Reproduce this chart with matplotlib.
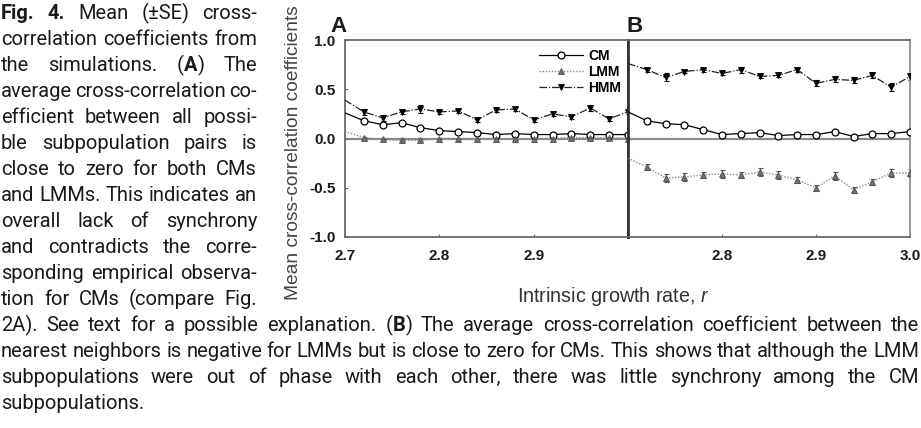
import matplotlib
matplotlib.use('Agg')
import matplotlib.pyplot as plt

# intrinsic growth rate, one simulation every 0.02
r = [2.70, 2.72, 2.74, 2.76, 2.78, 2.80, 2.82, 2.84, 2.86, 2.88, 2.90, 2.92, 2.94, 2.96, 2.98, 3.00]

# panel A: all possible subpopulation pairs
cm_a = [0.26, 0.18, 0.14, 0.16, 0.11, 0.08, 0.07, 0.06, 0.04, 0.05, 0.04, 0.04, 0.05, 0.04, 0.04, 0.04]
cm_a_se = [0.02, 0.02, 0.01, 0.01, 0.01, 0.01, 0.01, 0.01, 0.01, 0.01, 0.01, 0.01, 0.01, 0.01, 0.01, 0.01]
lmm_a = [0.07, 0.01, -0.01, -0.02, -0.02, 0.00, 0.00, 0.00, 0.00, -0.01, 0.00, 0.00, 0.01, 0.01, 0.01, 0.00]
lmm_a_se = [0.01, 0.01, 0.01, 0.01, 0.01, 0.01, 0.01, 0.01, 0.01, 0.01, 0.01, 0.01, 0.01, 0.01, 0.01, 0.01]
hmm_a = [0.39, 0.27, 0.21, 0.27, 0.30, 0.27, 0.28, 0.19, 0.29, 0.30, 0.19, 0.25, 0.22, 0.31, 0.20, 0.27]
hmm_a_se = [0.03, 0.03, 0.03, 0.02, 0.04, 0.02, 0.02, 0.02, 0.02, 0.02, 0.02, 0.02, 0.02, 0.03, 0.02, 0.02]

# panel B: nearest neighbours
cm_b = [0.27, 0.18, 0.15, 0.14, 0.09, 0.04, 0.05, 0.06, 0.03, 0.04, 0.04, 0.07, 0.02, 0.05, 0.05, 0.07]
cm_b_se = [0.02, 0.03, 0.02, 0.02, 0.02, 0.01, 0.01, 0.01, 0.01, 0.01, 0.01, 0.01, 0.01, 0.01, 0.01, 0.01]
lmm_b = [-0.20, -0.29, -0.40, -0.39, -0.37, -0.36, -0.37, -0.34, -0.37, -0.42, -0.50, -0.38, -0.52, -0.44, -0.35, -0.35]
lmm_b_se = [0.03, 0.03, 0.04, 0.04, 0.03, 0.04, 0.03, 0.04, 0.04, 0.03, 0.03, 0.04, 0.03, 0.03, 0.04, 0.04]
hmm_b = [0.76, 0.70, 0.62, 0.68, 0.70, 0.66, 0.70, 0.63, 0.64, 0.70, 0.56, 0.60, 0.59, 0.64, 0.52, 0.63]
hmm_b_se = [0.02, 0.02, 0.04, 0.02, 0.02, 0.02, 0.03, 0.02, 0.02, 0.02, 0.03, 0.03, 0.03, 0.03, 0.04, 0.04]

series_names = ['CM', 'LMM', 'HMM']
y_ticks = [-1.0, -0.5, 0.0, 0.5, 1.0]
x_ticks_a = [2.7, 2.8, 2.9]
x_ticks_b = [2.8, 2.9, 3.0]
panel_labels = ['A', 'B']

# caption, *...* toggles bold
caption_col = [
    '*Fig. 4.* Mean (\u00b1SE) cross-',
    'correlation coefficients from',
    'the simulations. (*A*) The',
    'average cross-correlation co-',
    'efficient between all possi-',
    'ble subpopulation pairs is',
    'close to zero for both CMs',
    'and LMMs. This indicates an',
    'overall lack of synchrony',
    'and contradicts the corre-',
    'sponding empirical observa-',
    'tion for CMs (compare Fig.',
]
caption_full = [
    '2A). See text for a possible explanation. (*B*) The average cross-correlation coefficient between the',
    'nearest neighbors is negative for LMMs but is close to zero for CMs. This shows that although the LMM',
    'subpopulations were out of phase with each other, there was little synchrony among the CM',
    'subpopulations.',
]

W, H = 921, 428
plt.rcParams['font.family'] = ['Liberation Sans', 'DejaVu Sans']
plt.rcParams['mathtext.fontset'] = 'custom'
plt.rcParams['mathtext.it'] = 'Liberation Sans:italic'
plt.rcParams['mathtext.rm'] = 'Liberation Sans'
cap_font = ['Roboto', 'DejaVu Sans']
cap_size = 14.5

fig = plt.figure(figsize=(W/100, H/100), dpi=100)
rend = fig.canvas.get_renderer()


def box(l, t, rr, b):
    return [l/W, 1-b/H, (rr-l)/W, (b-t)/H]


def text_w(s, bold):
    t = fig.text(0, 0, s, fontsize=cap_size, family=cap_font, weight='bold' if bold else 'normal')
    w = t.get_window_extent(rend).width
    t.remove()
    return w


def put_line(line, ybase, x0, x1, justify):
    # lay a caption line out word by word, stretching the gaps when justified
    words = []
    bold = False
    for w in line.split(' '):
        segs = []
        for i, p in enumerate(w.split('*')):
            if i > 0:
                bold = not bold
            if p:
                segs.append((p, bold))
        words.append(segs)
    widths = [[text_w(s, b) for s, b in segs] for segs in words]
    total = sum(sum(ws) for ws in widths)
    if justify and len(words) > 1:
        gap = (x1 - x0 - total)/(len(words)-1)
    else:
        gap = text_w('a a', False) - text_w('aa', False)
    x = x0
    for segs, ws in zip(words, widths):
        for (s, b), wd in zip(segs, ws):
            fig.text(x/W, 1-ybase/H, s, fontsize=cap_size, family=cap_font,
                     weight='bold' if b else 'normal', va='baseline', ha='left', color='#1a1a1a')
            x += wd
        x += gap


line_step = 26.0
y0 = 19.0
for i, ln in enumerate(caption_col):
    put_line(ln, y0 + i*line_step, 1, 257, True)
for j, ln in enumerate(caption_full):
    put_line(ln, y0 + (len(caption_col)+j)*line_step, 1, 919, j < len(caption_full)-1)

ax_a = fig.add_axes(box(345, 40, 628, 237))
ax_b = fig.add_axes(box(628, 40, 910, 237))

styles = {
    'CM': dict(color='black', lw=0.9, ls='-', marker='o', ms=5, mfc='white', mec='black', mew=0.9),
    'LMM': dict(color='#8c8c8c', lw=1.0, ls=(0, (1, 1.2)), marker='^', ms=5, mfc='#707070', mec='#505050', mew=0.6),
    'HMM': dict(color='#222222', lw=0.9, ls=(0, (6, 1.5, 1, 1.5)), marker='v', ms=5, mfc='black', mec='black', mew=0.6),
}
err_col = {'CM': 'black', 'LMM': '#555555', 'HMM': 'black'}

data = {
    ax_a: [(cm_a, cm_a_se), (lmm_a, lmm_a_se), (hmm_a, hmm_a_se)],
    ax_b: [(cm_b, cm_b_se), (lmm_b, lmm_b_se), (hmm_b, hmm_b_se)],
}

handles = []
for ax in (ax_a, ax_b):
    ax.axhline(0, color='#8a8a8a', lw=1.6, zorder=1)
    for name, (y, se) in zip(series_names, data[ax]):
        ax.errorbar(r[1:], y[1:], yerr=se[1:], fmt='none', ecolor=err_col[name],
                    elinewidth=0.8, capsize=1.8, capthick=0.8, zorder=2)
        ln, = ax.plot(r, y, markevery=slice(1, None), zorder=3, label=name, **styles[name])
        if ax is ax_a:
            handles.append(ln)
    ax.set_xlim(2.7, 3.0)
    ax.set_ylim(-1.0, 1.0)
    for sp in ax.spines.values():
        sp.set_color('#6a6a6a')
        sp.set_linewidth(1.3)
    ax.tick_params(direction='in', length=2, width=0.8, color='#6a6a6a',
                   labelsize=11, labelcolor='#1a1a1a')
    ax.tick_params(axis='x', pad=9)
    ax.tick_params(axis='y', pad=7)

ax_a.spines['right'].set_color('#333333')
ax_a.spines['right'].set_linewidth(2.0)
ax_b.spines['left'].set_color('#333333')
ax_b.spines['left'].set_linewidth(2.0)
ax_b.spines['right'].set_color('#909090')

ax_a.set_yticks(y_ticks)
ax_a.set_yticklabels(['%.1f' % v for v in y_ticks], fontweight='bold')
ax_a.set_xticks(x_ticks_a)
ax_a.set_xticklabels(['%.1f' % v for v in x_ticks_a], fontweight='bold')
ax_b.set_yticks([])
ax_b.set_xticks(x_ticks_b)
ax_b.set_xticklabels(['%.1f' % v for v in x_ticks_b], fontweight='bold')

leg = ax_a.legend(handles=handles, loc='upper left', bbox_to_anchor=(0.655, 0.995), frameon=False,
                  handlelength=3.2, handletextpad=0.35, labelspacing=0.12, borderaxespad=0.2,
                  prop=dict(weight='bold', size=10))

for lab, xp in zip(panel_labels, [330, 627]):
    fig.text(xp/W, 1-26/H, lab, fontsize=16, fontweight='bold', ha='left', va='center', color='#1a1a1a')

fig.text(293/W, 1-153/H, 'Mean cross-correlation coefficients', rotation=90, ha='center', va='center',
         fontsize=13.8, color='#444444')
fig.text(613/W, 1-297/H, 'Intrinsic growth rate, $\\mathit{r}$', ha='center', va='center',
         fontsize=14.2, color='#333333')

fig.savefig('out.png', dpi=100)
